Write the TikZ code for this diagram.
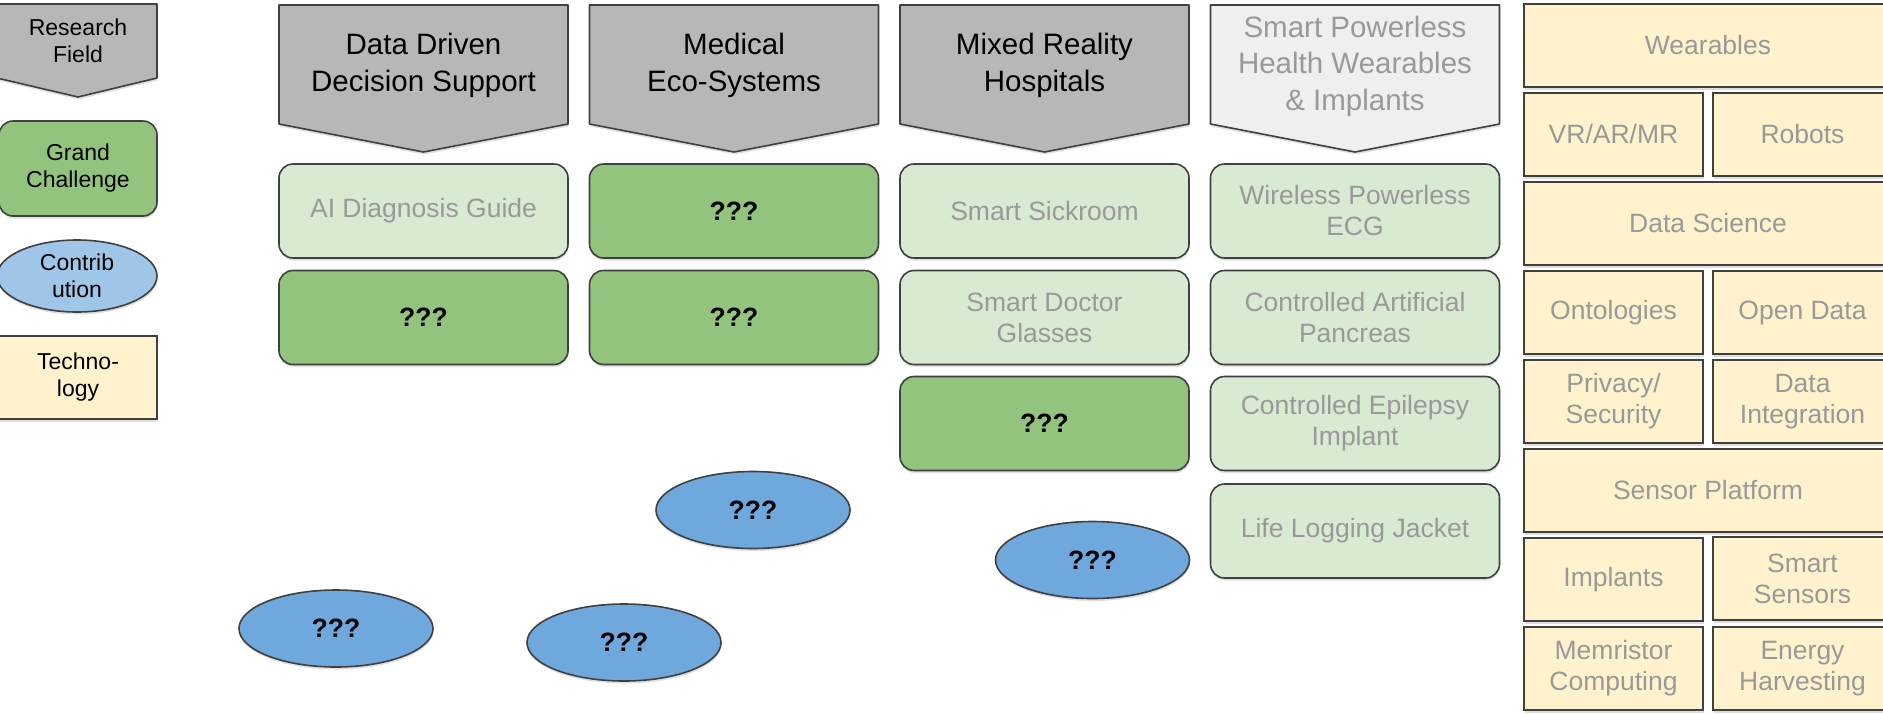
\documentclass[tikz,border=0pt]{standalone}
\usepackage{fontspec}
\setmainfont{Liberation Sans}
\usetikzlibrary{shapes.geometric,shadows}
\definecolor{fieldgray}{HTML}{B7B7B7}
\definecolor{fieldlight}{HTML}{EFEFEF}
\definecolor{gcdark}{HTML}{93C47D}
\definecolor{gclight}{HTML}{D9EAD3}
\definecolor{contribcol}{HTML}{6FA8DC}
\definecolor{contriblegend}{HTML}{9FC5E8}
\definecolor{techcol}{HTML}{FFF2CC}
\definecolor{textgray}{HTML}{999999}
\definecolor{bordercol}{HTML}{404040}
\begin{document}
\begin{tikzpicture}[x=1pt,y=-1pt,
  base/.style={draw=bordercol, line width=1.6pt,
    drop shadow={shadow xshift=0.5pt, shadow yshift=-2.5pt, opacity=0.25}},
  pent/.style={base, fill=fieldgray, line join=round},
  pentlight/.style={base, fill=fieldlight, line join=round},
  pentext/.style={align=center, inner sep=0pt, font=\fontsize{29.5}{36.5}\selectfont},
  gcdarkbox/.style={base, rounded corners=14pt, fill=gcdark, minimum width=289pt,
    minimum height=94pt, inner sep=0pt, align=center,
    font=\bfseries\fontsize{26.5}{31}\selectfont},
  gclightbox/.style={base, rounded corners=14pt, fill=gclight, text=textgray,
    minimum width=289pt, minimum height=94pt, inner sep=0pt, align=center,
    font=\fontsize{26.5}{31}\selectfont},
  contrib/.style={base, ellipse, fill=contribcol, minimum width=194pt,
    minimum height=77pt, inner sep=0pt, font=\bfseries\fontsize{26.5}{31}\selectfont},
  techbox/.style={base, fill=techcol, text=textgray, minimum height=83pt,
    inner sep=0pt, align=center, font=\fontsize{26.5}{31}\selectfont},
  techwide/.style={techbox, minimum width=368pt},
  techhalf/.style={techbox, minimum width=179pt},
  legtext/.style={align=center, font=\fontsize{23}{27}\selectfont}
]
\useasboundingbox (0,0) rectangle (1883,713);

% ---------- legend ----------
\path[pent] (-3,4) -- (157,4) -- (157,78) -- (78,97) -- (-3,78) -- cycle;
\node[legtext, inner sep=0pt] (legfield) at (78,41) {Research\\Field};
\node[base, rounded corners=14pt, fill=gcdark, minimum width=158pt, minimum height=95pt,
  inner sep=0pt, legtext] (leggc) at (78,168.5) {Grand\\Challenge};
\node[base, ellipse, fill=contriblegend, minimum width=160pt, minimum height=72pt,
  inner sep=0pt, legtext] (legcontrib) at (77,276) {Contrib\\ution};
\node[base, fill=techcol, minimum width=158pt, minimum height=83pt,
  inner sep=0pt, legtext] (legtech) at (78,377.5) {Techno-\\logy};

% ---------- research fields ----------
\path[pent] (279,5) -- (568,5) -- (568,124) -- (423.5,152) -- (279,124) -- cycle;
\node[pentext] (f1) at (423.5,65.5) {Data Driven\\Decision Support};
\path[pent] (589.5,5) -- (878.5,5) -- (878.5,124) -- (734,152) -- (589.5,124) -- cycle;
\node[pentext] (f2) at (734,65.5) {Medical\\Eco-Systems};
\path[pent] (900,5) -- (1189,5) -- (1189,124) -- (1044.5,152) -- (900,124) -- cycle;
\node[pentext] (f3) at (1044.5,65.5) {Mixed Reality\\Hospitals};
\path[pentlight] (1210.5,5) -- (1499.5,5) -- (1499.5,124) -- (1355,152) -- (1210.5,124) -- cycle;
\node[pentext, text=textgray] (f4) at (1355,66) {Smart Powerless\\Health Wearables\\\& Implants};

% ---------- grand challenges ----------
\node[gclightbox] (c1r1) at (423.5,211) {AI Diagnosis Guide};
\node[gcdarkbox]  (c1r2) at (423.5,317.5) {???};
\node[gcdarkbox]  (c2r1) at (734,211) {???};
\node[gcdarkbox]  (c2r2) at (734,317.5) {???};
\node[gclightbox] (c3r1) at (1044.5,211) {Smart Sickroom};
\node[gclightbox] (c3r2) at (1044.5,317.5) {Smart Doctor\\Glasses};
\node[gcdarkbox]  (c3r3) at (1044.5,423.5) {???};
\node[gclightbox] (c4r1) at (1355,211) {Wireless Powerless\\ECG};
\node[gclightbox] (c4r2) at (1355,317.5) {Controlled Artificial\\Pancreas};
\node[gclightbox] (c4r3) at (1355,423.5) {Controlled Epilepsy\\Implant};
\node[gclightbox] (c4r4) at (1355,531) {Life Logging Jacket};

% ---------- contributions ----------
\node[contrib] (e1) at (753,510) {???};
\node[contrib] (e2) at (1092.5,560) {???};
\node[contrib] (e3) at (336,628.5) {???};
\node[contrib] (e4) at (624,642.5) {???};

% ---------- technologies ----------
\node[techwide] (t1)  at (1708,45.5)  {Wearables};
\node[techhalf] (t2a) at (1613.5,134.5) {VR/AR/MR};
\node[techhalf] (t2b) at (1802.5,134.5) {Robots};
\node[techwide] (t3)  at (1708,223.5) {Data Science};
\node[techhalf] (t4a) at (1613.5,312.5) {Ontologies};
\node[techhalf] (t4b) at (1802.5,312.5) {Open Data};
\node[techhalf] (t5a) at (1613.5,401.5) {Privacy/\\Security};
\node[techhalf] (t5b) at (1802.5,401.5) {Data\\Integration};
\node[techwide] (t6)  at (1708,490.5) {Sensor Platform};
\node[techhalf] (t7a) at (1613.5,579.5) {Implants};
\node[techhalf] (t7b) at (1802.5,578.5) {Smart\\Sensors};
\node[techhalf] (t8a) at (1613.5,668.5) {Memristor\\Computing};
\node[techhalf] (t8b) at (1802.5,668.5) {Energy\\Harvesting};
\end{tikzpicture}
\end{document}
